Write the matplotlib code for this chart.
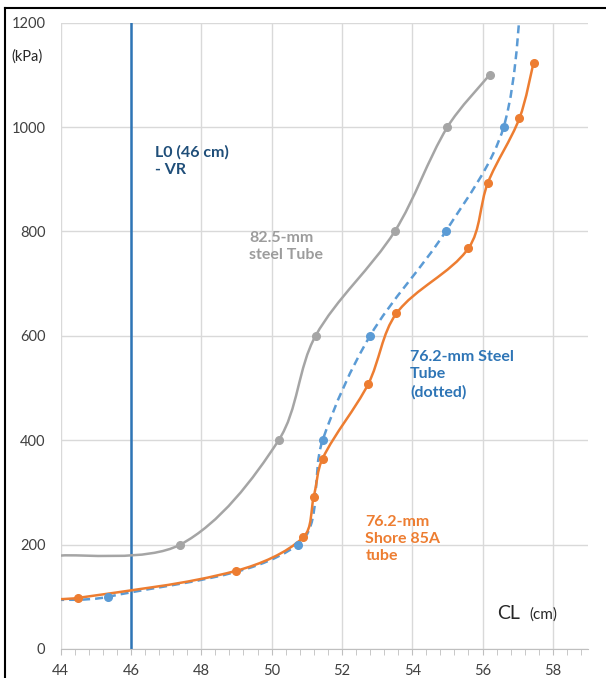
import math
import matplotlib
matplotlib.use("Agg")
import matplotlib.pyplot as plt
from matplotlib.path import Path
from matplotlib.patches import PathPatch
from matplotlib.ticker import MultipleLocator

plt.rcParams["font.family"] = ["Lato", "DejaVu Sans"]

# data (CL in cm, pressure in kPa)
# first point of each series sits at/left of the axis edge (no marker)
gray_x = [44.0, 47.4, 50.2, 51.25, 53.5, 55.0, 56.2]
gray_y = [179, 200, 400, 600, 800, 1000, 1100]
gray_mark = [False, True, True, True, True, True, True]

orange_x = [43.5, 44.5, 49.0, 50.9, 51.2, 51.45, 52.75, 53.55, 55.6, 56.15, 57.05, 57.45]
orange_y = [95, 98, 150, 214, 292, 365, 508, 643, 768, 893, 1017, 1123]
orange_mark = [False] + [True] * 11

blue_x = [43.5, 45.35, 50.75, 51.45, 52.8, 54.95, 56.6, 57.15]
blue_y = [94, 100, 200, 400, 600, 800, 1000, 1300]
blue_mark = [False, True, True, True, True, True, True, False]

vr_cl = 46  # L0 reference line

x_ticks = [44, 46, 48, 50, 52, 54, 56, 58]
y_ticks = [0, 200, 400, 600, 800, 1000, 1200]

# rough screen scale (px per cm, px per kPa) used to weight the smoothing
SX, SY = 35.25, 0.522


def smooth_path(xs, ys):
    # smoothed line like Excel's: cubic bezier, tangents weighted by chord length
    pts = list(zip(xs, ys))
    n = len(pts)

    def d(a, b):
        return math.hypot((a[0] - b[0]) * SX, (a[1] - b[1]) * SY)

    verts = [pts[0]]
    codes = [Path.MOVETO]
    for i in range(n - 1):
        p1, p2 = pts[i], pts[i + 1]
        p0 = pts[i - 1] if i > 0 else p1
        p3 = pts[i + 2] if i + 2 < n else p2
        d01, d12, d23 = d(p0, p1), d(p1, p2), d(p2, p3)
        f1 = d12 / (d01 + d12) / 3 if d01 > 0 else 1 / 6
        f2 = d12 / (d12 + d23) / 3 if d23 > 0 else 1 / 6
        c1 = (p1[0] + (p2[0] - p0[0]) * f1, p1[1] + (p2[1] - p0[1]) * f1)
        c2 = (p2[0] - (p3[0] - p1[0]) * f2, p2[1] - (p3[1] - p1[1]) * f2)
        verts += [c1, c2, p2]
        codes += [Path.CURVE4] * 3
    return Path(verts, codes)


fig = plt.figure(figsize=(6.06, 6.78), dpi=100)
ax = fig.add_axes([60.7 / 606, 1 - 649 / 678, (588 - 60.7) / 606, (649 - 22.7) / 678])

ax.set_xlim(44, 59)
ax.set_ylim(0, 1200)

for xs, ys, mk, col, ls in [
    (gray_x, gray_y, gray_mark, "#A5A5A5", "-"),
    (blue_x, blue_y, blue_mark, "#5B9BD5", (0, (3.2, 2.0))),
    (orange_x, orange_y, orange_mark, "#ED7D31", "-"),
]:
    ax.add_patch(PathPatch(smooth_path(xs, ys), fill=False, edgecolor=col,
                           lw=1.8, linestyle=ls, zorder=3, capstyle="butt"))
    px = [x for x, m in zip(xs, mk) if m]
    py = [y for y, m in zip(ys, mk) if m]
    ax.plot(px, py, "o", color=col, ms=5.5, zorder=4)

ax.axvline(vr_cl, color="#2E75B6", lw=1.8, zorder=2)

ax.set_xticks(x_ticks)
ax.xaxis.set_minor_locator(MultipleLocator(0.4))
ax.set_yticks(y_ticks)
ax.grid(True, which="major", color="#D9D9D9", lw=1)
ax.set_axisbelow(True)
for s in ["top", "right", "left"]:
    ax.spines[s].set_visible(False)
ax.spines["bottom"].set_color("#BFBFBF")
ax.tick_params(axis="x", which="both", direction="out", length=4, color="#BFBFBF",
               labelsize=10.5, pad=7, labelcolor="#404040")
ax.tick_params(axis="y", length=0, labelsize=10.5, pad=11, labelcolor="#404040")

bold = dict(fontsize=11.5, fontweight="bold", va="top", ha="left", linespacing=1.3)
ax.text(46.68, 966, "L0 (46 cm)\n- VR", color="#1F4E79", **bold)
ax.text(49.37, 801, "82.5-mm\nsteel Tube", color="#9C9C9C", **bold)
ax.text(53.94, 573, "76.2-mm Steel\nTube\n(dotted)", color="#2E75B6", **bold)
ax.text(52.67, 257, "76.2-mm\nShore 85A\ntube", color="#ED7D31", **bold)

fig.text(497 / 606, 1 - 619 / 678, "CL", fontsize=14, color="#262626", ha="left", va="baseline")
fig.text(529 / 606, 1 - 619 / 678, "(cm)", fontsize=11, color="#262626", ha="left", va="baseline")
fig.text(43 / 606, 1 - 57 / 678, "(kPa)", fontsize=10.5, color="#262626", ha="right", va="center")

# chart frame (top and left edges visible) and the clipped title
fig.add_artist(plt.Line2D([5 / 606, 1], [1 - 8 / 678, 1 - 8 / 678], color="black", lw=1.5))
fig.add_artist(plt.Line2D([5 / 606, 5 / 606], [0, 1 - 8 / 678], color="black", lw=1.5))
fig.text(228 / 606, 1 + 9 / 678, "(", fontsize=12, color="#404040", ha="center", va="baseline")
fig.text(357 / 606, 1 + 9 / 678, ")", fontsize=12, color="#404040", ha="center", va="baseline")

fig.savefig("out.png", dpi=100)
print("wrote out.png")
